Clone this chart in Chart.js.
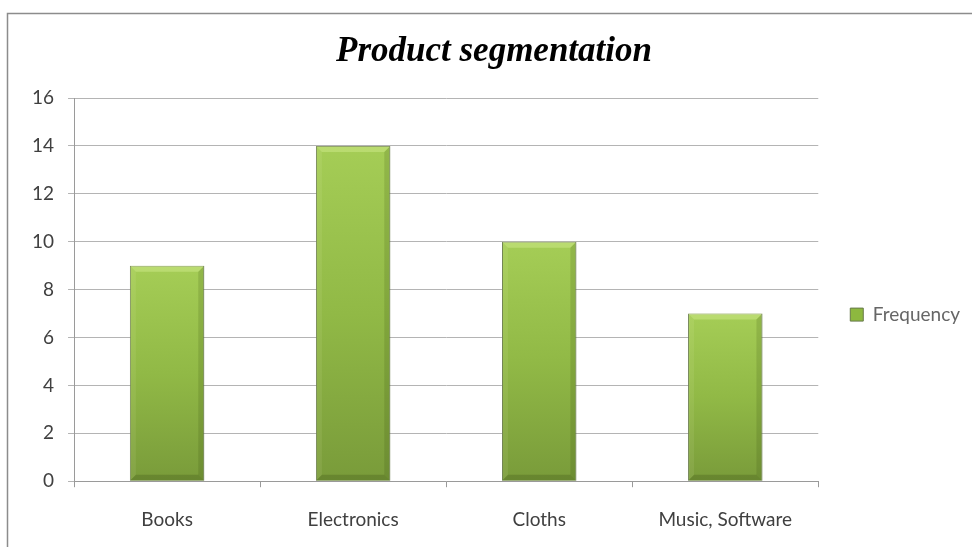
<!DOCTYPE html>
<html>
<head>
<meta charset="utf-8">
<script src="https://cdn.jsdelivr.net/npm/chart.js@4"></script>
<style>
html, body { margin: 0; padding: 0; background: #fff; }
</style>
</head>
<body>
<canvas id="chart" width="972" height="547"></canvas>
<script>
const categories = ['Books', 'Electronics', 'Cloths', 'Music, Software'];
const frequency = [9, 14, 10, 7];
const yTicks = [0, 2, 4, 6, 8, 10, 12, 14, 16];
const seriesName = 'Frequency';
const chartTitle = 'Product segmentation';

const canvasChart = document.getElementById('chart');

// grey frame round the chart (only top and left show in the picture)
const frame = {
    id: 'frame',
    beforeDraw(chart) {
        const c = chart.ctx;
        c.save();
        c.strokeStyle = '#8c8c8c';
        c.lineWidth = 1.5;
        c.beginPath();
        c.moveTo(7.5, 560);
        c.lineTo(7.5, 13.5);
        c.lineTo(990, 13.5);
        c.stroke();
        c.restore();
    }
};

// excel style bevel on each bar
const bevel = {
    id: 'bevel',
    afterDatasetsDraw(chart) {
        const c = chart.ctx;
        chart.getDatasetMeta(0).data.forEach(bar => {
            const l = bar.x - bar.width / 2, r = bar.x + bar.width / 2;
            const t = bar.y, b = bar.base, d = 6;
            c.save();
            c.fillStyle = 'rgba(225,245,160,0.35)';
            c.beginPath();
            c.moveTo(l, t); c.lineTo(r, t); c.lineTo(r - d, t + d); c.lineTo(l + d, t + d);
            c.closePath(); c.fill();
            c.fillStyle = 'rgba(255,255,220,0.08)';
            c.beginPath();
            c.moveTo(l, t); c.lineTo(l + d, t + d); c.lineTo(l + d, b - d); c.lineTo(l, b);
            c.closePath(); c.fill();
            c.fillStyle = 'rgba(40,60,10,0.15)';
            c.beginPath();
            c.moveTo(r, t); c.lineTo(r - d, t + d); c.lineTo(r - d, b - d); c.lineTo(r, b);
            c.closePath(); c.fill();
            c.fillStyle = 'rgba(40,60,10,0.22)';
            c.beginPath();
            c.moveTo(l, b); c.lineTo(l + d, b - d); c.lineTo(r - d, b - d); c.lineTo(r, b);
            c.closePath(); c.fill();
            c.restore();
        });
    }
};

function barFill(ctx) {
    const chart = ctx.chart;
    if (!chart.chartArea || ctx.raw === undefined) return '#94bc46';
    const y = chart.scales.y;
    const top = y.getPixelForValue(ctx.raw);
    const base = y.getPixelForValue(0);
    const g = chart.ctx.createLinearGradient(0, top, 0, base);
    g.addColorStop(0, '#a5cd56');
    g.addColorStop(0.5, '#91b946');
    g.addColorStop(1, '#799b3a');
    return g;
}

const tickFont = { family: 'Lato', size: 19 };

new Chart(canvasChart, {
    type: 'bar',
    data: {
        labels: categories,
        datasets: [{
            label: seriesName,
            data: frequency,
            backgroundColor: barFill,
            borderColor: '#677a4a',
            borderWidth: 1,
            barPercentage: 0.4,
            categoryPercentage: 1.0
        }]
    },
    options: {
        responsive: false,
        animation: false,
        layout: { padding: { left: 18, right: 2, top: 0, bottom: -5 } },
        plugins: {
            title: {
                display: true,
                text: chartTitle,
                color: '#000',
                font: { family: 'Liberation Serif', size: 35, style: 'italic', weight: 'bold' },
                padding: { top: 31, bottom: 25 }
            },
            legend: {
                position: 'right',
                title: {
                    display: true,
                    text: ' ',
                    font: { size: 1 },
                    padding: { top: 76, bottom: 0 }
                },
                labels: {
                    boxWidth: 13,
                    boxHeight: 13,
                    color: '#404040',
                    font: tickFont,
                    padding: 32,
                    generateLabels(chart) {
                        return [{
                            text: seriesName,
                            fillStyle: '#8db83f',
                            strokeStyle: '#677a4a',
                            lineWidth: 1,
                            datasetIndex: 0
                        }];
                    }
                }
            },
            tooltip: { enabled: false }
        },
        scales: {
            x: {
                offset: true,
                grid: {
                    offset: true,
                    drawOnChartArea: false,
                    drawTicks: true,
                    tickLength: 6,
                    color: '#9a9a9a'
                },
                border: { color: '#9a9a9a', width: 1 },
                ticks: { color: '#404040', font: tickFont, padding: 21, maxRotation: 0 }
            },
            y: {
                min: 0,
                max: 16,
                afterBuildTicks(axis) {
                    axis.ticks = yTicks.map(v => ({ value: v }));
                },
                grid: {
                    color: '#b4b4b4',
                    tickLength: 6
                },
                border: { color: '#9a9a9a', width: 1 },
                ticks: { color: '#404040', font: tickFont, padding: 14 }
            }
        }
    },
    plugins: [frame, bevel]
});
</script>
</body>
</html>
